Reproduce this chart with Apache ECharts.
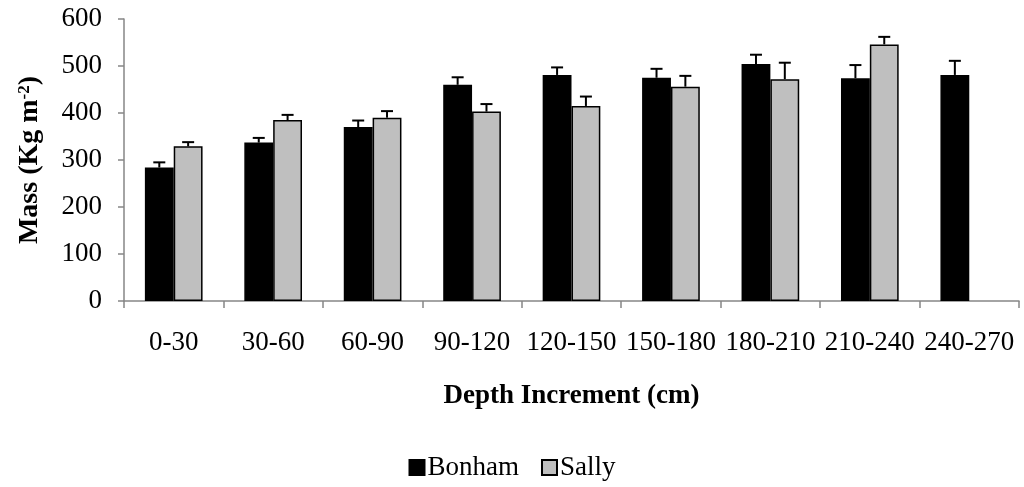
<!DOCTYPE html>
<html>
<head>
<meta charset="utf-8">
<script src="https://cdn.jsdelivr.net/npm/echarts@6/dist/echarts.min.js"></script>
<style>
  html, body { margin: 0; padding: 0; background: #fff; }
  #chart { width: 1024px; height: 487px; }
</style>
</head>
<body>
<div id="chart"></div>
<script>
const depthList = ['0-30', '30-60', '60-90', '90-120', '120-150', '150-180', '180-210', '210-240', '240-270']
const bonhamList = [284, 337, 370, 460, 481, 475, 504, 474, 481]
const bonhamErr = [11, 10, 14, 16, 16, 19, 20, 28, 30]
const sallyList = [329, 385, 390, 403, 415, 456, 472, 546, null]
const sallyErr = [9, 11, 14, 16, 20, 23, 35, 16, null]

const font = '"Liberation Serif", "Times New Roman", serif'
const catGap = 0.42

// error bar whiskers, drawn on top of each bar
function errorSeries(name, values, errs, side) {
  const data = values.map((v, i) => v == null ? [i, '-', '-'] : [i, v, v + errs[i]])
  return {
    name: name,
    type: 'custom',
    z: 5,
    silent: true,
    renderItem: function (params, api) {
      const idx = api.value(0)
      const lo = api.value(1)
      const hi = api.value(2)
      if (isNaN(lo) || isNaN(hi)) return
      const band = api.size([1, 0])[0]
      const barW = band * (1 - catGap) / 2
      const base = api.coord([idx, lo])
      const top = api.coord([idx, hi])
      const x = base[0] + side * barW / 2
      const cap = 6
      const style = { stroke: '#000', lineWidth: 2 }
      return {
        type: 'group',
        children: [
          { type: 'line', shape: { x1: x, y1: base[1], x2: x, y2: top[1] }, style: style },
          { type: 'line', shape: { x1: x - cap, y1: top[1], x2: x + cap, y2: top[1] }, style: style }
        ]
      }
    },
    data: data
  }
}

const chart = echarts.init(document.getElementById('chart'))
chart.setOption({
  animation: false,
  textStyle: { fontFamily: font },
  grid: { left: 124, right: 5, top: 19, bottom: 186 },
  legend: {
    data: ['Bonham', 'Sally'],
    top: 449,
    left: 'center',
    icon: 'rect',
    itemWidth: 15,
    itemHeight: 15,
    itemGap: 22,
    textStyle: { fontFamily: font, fontSize: 27, color: '#000', padding: [0, 0, 0, -2] }
  },
  xAxis: {
    type: 'category',
    data: depthList,
    name: 'Depth Increment (cm)',
    nameLocation: 'middle',
    nameGap: 82,
    nameTextStyle: { fontFamily: font, fontSize: 27, fontWeight: 'bold', color: '#000' },
    axisLine: { lineStyle: { color: '#868686', width: 1.5 } },
    axisTick: { show: true, length: 7, lineStyle: { color: '#868686', width: 1.5 } },
    axisLabel: { fontFamily: font, fontSize: 27, color: '#000', margin: 28, interval: 0 }
  },
  yAxis: {
    type: 'value',
    min: 0,
    max: 600,
    interval: 100,
    name: 'Mass (Kg m{sup|-2})',
    nameLocation: 'middle',
    nameGap: 80,
    nameTextStyle: {
      fontFamily: font, fontSize: 28, fontWeight: 'bold', color: '#000',
      rich: {
        sup: { fontFamily: font, fontSize: 17, fontWeight: 'bold', color: '#000', verticalAlign: 'top', padding: [0, 0, 10, 0] }
      }
    },
    splitLine: { show: false },
    axisLine: { show: true, lineStyle: { color: '#868686', width: 1.5 } },
    axisTick: { show: true, length: 6, lineStyle: { color: '#868686', width: 1.5 } },
    axisLabel: { fontFamily: font, fontSize: 27, color: '#000', margin: 22 }
  },
  series: [
    {
      name: 'Bonham',
      type: 'bar',
      data: bonhamList,
      barGap: '0%',
      barCategoryGap: '42%',
      itemStyle: { color: '#000000', borderColor: '#000', borderWidth: 1.5 }
    },
    {
      name: 'Sally',
      type: 'bar',
      data: sallyList,
      itemStyle: { color: '#BFBFBF', borderColor: '#000', borderWidth: 1.5 }
    },
    errorSeries('BonhamErr', bonhamList, bonhamErr, -1),
    errorSeries('SallyErr', sallyList, sallyErr, 1)
  ]
})
</script>
</body>
</html>
